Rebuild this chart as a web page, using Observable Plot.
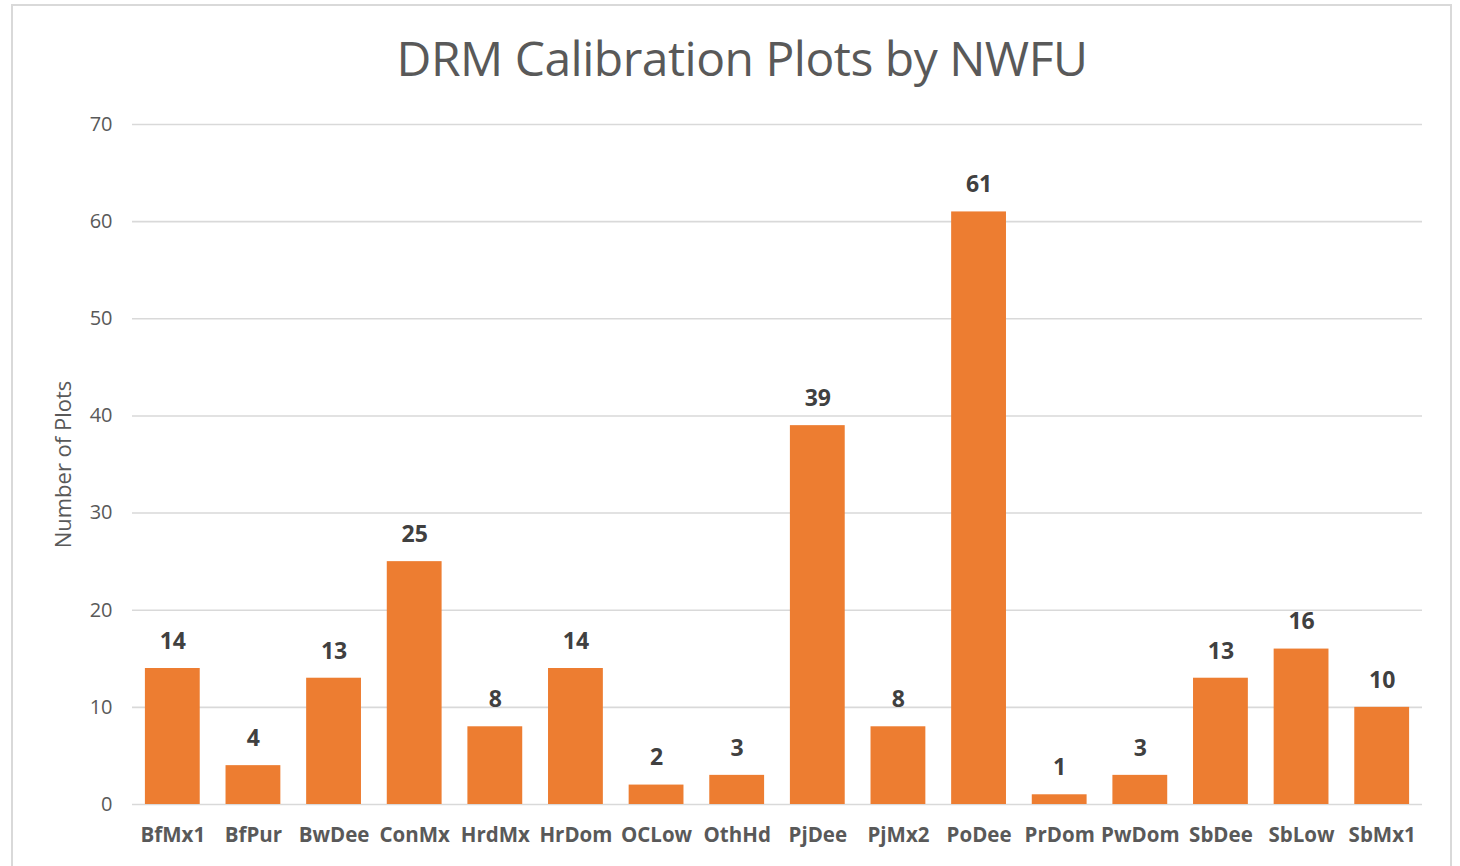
<!DOCTYPE html>
<html>
<head>
<meta charset="utf-8">
<script src="https://cdn.jsdelivr.net/npm/d3@7"></script>
<script src="https://cdn.jsdelivr.net/npm/@observablehq/plot@0.6"></script>
<style>
  html, body { margin: 0; padding: 0; background: #fff; }
  body { width: 1460px; height: 866px; position: relative; overflow: hidden; font-family: "Open Sans", sans-serif; }
  #frame { position: absolute; left: 11px; top: 4px; width: 1441px; height: 870px; border: 2px solid #d9d9d9; box-sizing: border-box; }
  #title { position: absolute; left: 0; top: 26px; width: 1484px; text-align: center; font-size: 48px; color: #595959; line-height: 64px; letter-spacing: -0.5px; }
  #chart { position: absolute; left: 0; top: 100px; }
</style>
</head>
<body>
<div id="frame"></div>
<div id="title">DRM Calibration Plots by NWFU</div>
<div id="chart"></div>
<script>
const categories = ["BfMx1","BfPur","BwDee","ConMx","HrdMx","HrDom","OCLow","OthHd","PjDee","PjMx2","PoDee","PrDom","PwDom","SbDee","SbLow","SbMx1"];
const counts = [14,4,13,25,8,14,2,3,39,8,61,1,3,13,16,10];
const yTicks = [0,10,20,30,40,50,60,70];

const data = categories.map((c, i) => ({cat: c, n: counts[i]}));

const chart = Plot.plot({
  width: 1460,
  height: 766,
  marginTop: 24,
  marginBottom: 62,
  marginLeft: 132,
  marginRight: 38,
  style: {fontFamily: "Open Sans, sans-serif", background: "transparent"},
  x: {domain: categories, paddingInner: 0.32, paddingOuter: 0.16, round: false},
  y: {domain: [0, 70]},
  marks: [
    Plot.gridY(yTicks, {stroke: "#d9d9d9", strokeOpacity: 1, strokeWidth: 1.6}),
    Plot.barY(data, {x: "cat", y: "n", fill: "#ED7D31"}),
    Plot.text(data, {x: "cat", y: "n", text: d => String(d.n), dy: -27, fontSize: 23, fontWeight: "bold", fill: "#404040"}),
    Plot.axisX({tickSize: 0, tickPadding: 23, fontSize: 20.5, fontWeight: "bold", fill: "#595959", label: null}),
    Plot.axisY({ticks: yTicks, tickSize: 0, tickPadding: 20, fontSize: 20, fill: "#595959", label: null}),
    Plot.text(["Number of Plots"], {frameAnchor: "left", textAnchor: "middle", dx: -69, rotate: -90, fontSize: 22, fill: "#595959"})
  ]
});
document.getElementById("chart").appendChild(chart);
</script>
</body>
</html>
